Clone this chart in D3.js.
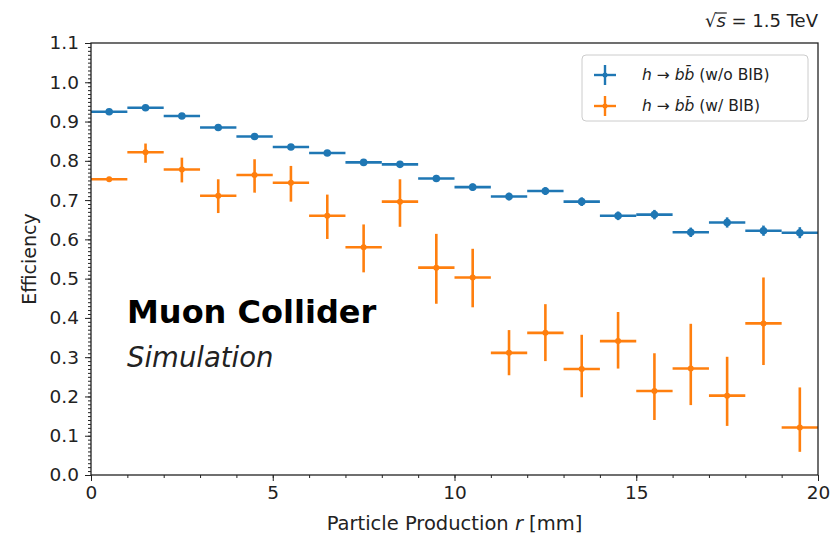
<!DOCTYPE html>
<html>
<head>
<meta charset="utf-8">
<script src="https://cdn.jsdelivr.net/npm/d3@7/dist/d3.min.js"></script>
<style>
  html, body { margin: 0; padding: 0; background: #fff; }
  svg text { font-family: "DejaVu Sans", sans-serif; fill: #222; }
</style>
</head>
<body>
<svg id="chart" width="831" height="535"></svg>
<script>
// Bin centres of the production radius r [mm] (1 mm wide bins)
const binCenters = d3.range(0.5, 20, 1);
const binHalfWidth = 0.5;

// h -> bb efficiency without beam-induced background
const effNoBIB = [0.925, 0.935, 0.914, 0.885, 0.862, 0.835, 0.820, 0.796, 0.791, 0.755,
                  0.733, 0.709, 0.723, 0.696, 0.660, 0.663, 0.618, 0.643, 0.622, 0.617];
const errNoBIB = [0.004, 0.005, 0.005, 0.006, 0.006, 0.007, 0.007, 0.008, 0.008, 0.009,
                  0.009, 0.010, 0.010, 0.011, 0.011, 0.012, 0.012, 0.013, 0.013, 0.014];

// h -> bb efficiency with beam-induced background (asymmetric uncertainties)
const effBIB = [0.753, 0.822, 0.778, 0.711, 0.764, 0.744, 0.660, 0.580, 0.696, 0.528,
                0.503, 0.311, 0.362, 0.270, 0.341, 0.214, 0.271, 0.202, 0.386, 0.121];
const errBIBLow  = [0.006, 0.027, 0.033, 0.044, 0.045, 0.048, 0.059, 0.064, 0.064, 0.092,
                    0.076, 0.057, 0.072, 0.072, 0.070, 0.074, 0.093, 0.077, 0.106, 0.062];
const errBIBHigh = [0.006, 0.022, 0.030, 0.042, 0.040, 0.043, 0.054, 0.058, 0.057, 0.086,
                    0.073, 0.058, 0.073, 0.087, 0.074, 0.096, 0.114, 0.099, 0.117, 0.102];

const xTicks = [0, 5, 10, 15, 20];
const yTicks = [0.0, 0.1, 0.2, 0.3, 0.4, 0.5, 0.6, 0.7, 0.8, 0.9, 1.0, 1.1];

const seriesNames = ["w/o BIB", "w/ BIB"];
const seriesColors = ["#1f77b4", "#ff7f0e"];

const margin = { left: 91, right: 13, top: 43, bottom: 60 };
const W = 831, H = 535;
const svg = d3.select("#chart");

const x = d3.scaleLinear().domain([0, 20]).range([margin.left, W - margin.right]);
const y = d3.scaleLinear().domain([0, 1.1]).range([H - margin.bottom, margin.top]);

// Axes with minor ticks
const xMinor = d3.axisBottom(x).tickValues(d3.range(0, 21, 1)).tickSize(3).tickFormat("");
const xMajor = d3.axisBottom(x).tickValues(xTicks).tickSize(6).tickPadding(5).tickFormat(d3.format("d"));
const yMinor = d3.axisLeft(y).tickValues(d3.range(0, 1.1001, 0.01)).tickSize(3).tickFormat("");
const yMajor = d3.axisLeft(y).tickValues(yTicks).tickSize(6).tickPadding(6).tickFormat(d3.format(".1f"));

function styleAxis(g) {
  g.select(".domain").remove();
  g.selectAll("line").attr("stroke", "#222").attr("stroke-width", 1);
  g.selectAll("text").style("font-family", "DejaVu Sans, sans-serif").style("font-size", "18.5px").attr("fill", "#222");
}
svg.append("g").attr("transform", `translate(0,${y(0)})`).call(xMinor).call(styleAxis);
svg.append("g").attr("transform", `translate(0,${y(0)})`).call(xMajor).call(styleAxis);
svg.append("g").attr("transform", `translate(${x(0)},0)`).call(yMinor).call(styleAxis);
svg.append("g").attr("transform", `translate(${x(0)},0)`).call(yMajor).call(styleAxis);

// Axis labels
svg.append("text")
  .attr("transform", `translate(36,${(y(0) + y(1.1)) / 2}) rotate(-90)`)
  .attr("text-anchor", "middle")
  .style("font-size", "19px")
  .text("Efficiency");

const xl = svg.append("text")
  .attr("x", (x(0) + x(20)) / 2).attr("y", 530)
  .attr("text-anchor", "middle")
  .style("font-size", "19.5px");
xl.append("tspan").text("Particle Production ");
xl.append("tspan").style("font-style", "italic").text("r");
xl.append("tspan").text(" [mm]");

// Data: error bars with markers
const plot = svg.append("g");
function drawSeries(vals, lo, hi, color, r) {
  const g = plot.append("g");
  binCenters.forEach((c, i) => {
    g.append("line")
      .attr("x1", x(c - binHalfWidth)).attr("x2", x(c + binHalfWidth))
      .attr("y1", y(vals[i])).attr("y2", y(vals[i]))
      .attr("stroke", color).attr("stroke-width", 2.6);
    g.append("line")
      .attr("x1", x(c)).attr("x2", x(c))
      .attr("y1", y(vals[i] - lo[i])).attr("y2", y(vals[i] + hi[i]))
      .attr("stroke", color).attr("stroke-width", 2.6);
    g.append("circle")
      .attr("cx", x(c)).attr("cy", y(vals[i])).attr("r", r)
      .attr("fill", color);
  });
}
drawSeries(effNoBIB, errNoBIB, errNoBIB, seriesColors[0], 3.8);
drawSeries(effBIB, errBIBLow, errBIBHigh, seriesColors[1], 3);

// Frame
svg.append("rect")
  .attr("x", x(0)).attr("y", y(1.1))
  .attr("width", x(20) - x(0)).attr("height", y(0) - y(1.1))
  .attr("fill", "none").attr("stroke", "#222").attr("stroke-width", 1.3);

// Experiment labels
svg.append("text").attr("x", 127).attr("y", 323)
  .style("font-size", "32px").style("font-weight", "bold").style("fill", "#000")
  .text("Muon Collider");
svg.append("text").attr("x", 127).attr("y", 367)
  .style("font-size", "27.5px").style("font-style", "italic")
  .text("Simulation");

// Centre-of-mass energy label
const sqrtLabel = svg.append("text")
  .attr("x", x(20)).attr("y", 27)
  .attr("text-anchor", "end")
  .style("font-size", "18px");
sqrtLabel.append("tspan").text("\u221A");
sqrtLabel.append("tspan").style("font-style", "italic").text("s");
sqrtLabel.append("tspan").text(" = 1.5 TeV");
{
  const n = sqrtLabel.node();
  const end = n.getEndPositionOfChar(1).x;
  const rootEnd = n.getEndPositionOfChar(0).x;
  svg.append("line")
    .attr("x1", rootEnd - 1).attr("x2", end + 1)
    .attr("y1", 13).attr("y2", 13)
    .attr("stroke", "#222").attr("stroke-width", 1.2);
}

// Legend
const lg = svg.append("g");
lg.append("rect")
  .attr("x", 582).attr("y", 55).attr("width", 226).attr("height", 66).attr("rx", 4)
  .attr("fill", "#fff").attr("fill-opacity", 0.8)
  .attr("stroke", "#ccc").attr("stroke-width", 1);
seriesNames.forEach((name, i) => {
  const cy = 75 + i * 31;
  const col = seriesColors[i];
  lg.append("line").attr("x1", 594).attr("x2", 616).attr("y1", cy).attr("y2", cy)
    .attr("stroke", col).attr("stroke-width", 2.4);
  lg.append("line").attr("x1", 605).attr("x2", 605).attr("y1", cy - 10).attr("y2", cy + 10)
    .attr("stroke", col).attr("stroke-width", 2.4);
  lg.append("circle").attr("cx", 605).attr("cy", cy).attr("r", 2.5).attr("fill", col);
  const t = lg.append("text").attr("x", 642).attr("y", cy + 5).style("font-size", "15.5px");
  t.append("tspan").style("font-style", "italic").text("h");
  t.append("tspan").text(" \u2192 ");
  t.append("tspan").style("font-style", "italic").text("bb\u0304");
  t.append("tspan").text(` (${name})`);
});
</script>
</body>
</html>
